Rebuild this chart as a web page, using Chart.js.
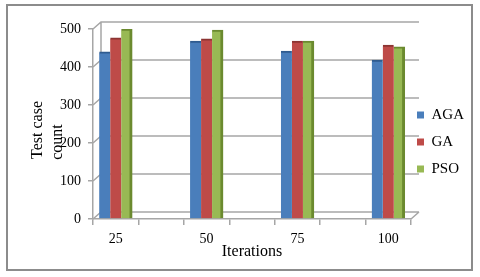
<!DOCTYPE html>
<html>
<head>
<meta charset="utf-8">
<script src="https://cdn.jsdelivr.net/npm/chart.js@4/dist/chart.umd.min.js"></script>
<style>
    html, body { margin: 0; padding: 0; background: #ffffff; }
    .frame {
        position: absolute; left: 6px; top: 4px;
        width: 463px; height: 263px;
        border: 2px solid #8c8c8c;
    }
    #chart { position: absolute; left: 0; top: 0; }
</style>
</head>
<body>
<div class="frame"></div>
<canvas id="chart" width="480" height="277"></canvas>
<script>
// values
const categories = [25, 50, 75, 100];
const xTickLabels = ["25", "50", "75", "100"];
const seriesNames = ["AGA", "GA", "PSO"];
const agaValues = [440, 468, 442, 418];
const gaValues = [477, 474, 468, 458];
const psoValues = [500, 497, 468, 453];

const serif = "'Liberation Serif', 'Times New Roman', serif";
const gridColor = "#a6a6a6";

// excel-style 3d back wall + gridlines
const wall3d = {
    id: "wall3d",
    beforeDatasetsDraw(chart) {
        const { ctx, chartArea: a, scales: { y } } = chart;
        const dx = 8, dy = -7;
        ctx.save();
        ctx.strokeStyle = gridColor;
        ctx.lineWidth = 1.5;
        ctx.beginPath();
        ctx.moveTo(a.left + dx, a.top + dy);
        ctx.lineTo(a.left + dx, a.bottom + dy);
        y.ticks.forEach((t) => {
            const py = y.getPixelForValue(t.value);
            ctx.moveTo(a.left, py);
            ctx.lineTo(a.left + dx, py + dy);
            ctx.lineTo(a.right + dx, py + dy);
        });
        ctx.moveTo(a.right, a.bottom);
        ctx.lineTo(a.right + dx, a.bottom + dy);
        ctx.stroke();
        ctx.restore();
    },
};

const toPoints = (vals) => categories.map((c, i) => ({ x: c, y: vals[i] }));

const ctx = document.getElementById("chart").getContext("2d");

const chart = new Chart(ctx, {
    type: "bar",
    data: {
        datasets: [
            {
                label: seriesNames[0],
                data: toPoints(agaValues),
                backgroundColor: "#4a7ebb",
                borderColor: "#2f5b8f",
                borderWidth: { top: 2, right: 0, left: 0, bottom: 0 },
            },
            {
                label: seriesNames[1],
                data: toPoints(gaValues),
                backgroundColor: "#be4b48",
                borderColor: "#8c3432",
                borderWidth: { top: 2, right: 0, left: 0, bottom: 0 },
            },
            {
                label: seriesNames[2],
                data: toPoints(psoValues),
                backgroundColor: "#98b954",
                borderColor: "#6b8a2f",
                borderWidth: { top: 2, right: 3, left: 0, bottom: 0 },
            },
        ],
    },
    options: {
        responsive: false,
        animation: false,
        layout: { padding: { left: 28, top: 29, right: 6, bottom: 16 } },
        datasets: { bar: { barThickness: 11 } },
        scales: {
            x: {
                type: "linear",
                offset: false,
                min: 18.75,
                max: 106.25,
                afterBuildTicks: (scale) => {
                    const ticks = [];
                    for (let v = 18.75; v <= 106.25; v += 12.5) ticks.push({ value: v });
                    scale.ticks = ticks;
                },
                afterFit: (scale) => {
                    scale.height = 42;
                },
                grid: {
                    offset: false,
                    drawOnChartArea: false,
                    tickLength: 6,
                    color: gridColor,
                    lineWidth: 1.5,
                },
                border: { color: gridColor, width: 1.5 },
                ticks: {
                    autoSkip: false,
                    maxRotation: 0,
                    labelOffset: 22.7,
                    padding: 6,
                    color: "#000",
                    font: { family: serif, size: 14 },
                    callback: (value) => {
                        const i = categories.indexOf(value + 6.25);
                        return i >= 0 ? xTickLabels[i] : "";
                    },
                },
                title: {
                    display: true,
                    text: "Iterations",
                    color: "#000",
                    font: { family: serif, size: 16, lineHeight: 1.2 },
                    padding: { top: 0, bottom: 0 },
                },
            },
            y: {
                min: 0,
                max: 500,
                afterFit: (scale) => {
                    scale.width = 65;
                },
                ticks: {
                    stepSize: 100,
                    padding: 7,
                    color: "#000",
                    font: { family: serif, size: 14 },
                },
                grid: {
                    drawOnChartArea: false,
                    tickLength: 5,
                    color: gridColor,
                    lineWidth: 1.5,
                },
                border: { color: gridColor, width: 1.5 },
                title: {
                    display: true,
                    text: ["Test case   ", "count         "],
                    color: "#000",
                    font: { family: serif, size: 16, lineHeight: 1.25 },
                    padding: { top: 0, bottom: 0 },
                },
            },
        },
        plugins: {
            legend: {
                position: "right",
                labels: {
                    boxWidth: 7,
                    boxHeight: 7,
                    padding: 6,
                    color: "#000",
                    font: { family: serif, size: 15, lineHeight: 1.4 },
                    generateLabels: (chart) =>
                        Chart.defaults.plugins.legend.labels
                            .generateLabels(chart)
                            .map((l) => ({ ...l, text: [l.text], lineWidth: 0 })),
                },
            },
            tooltip: { enabled: false },
        },
    },
    plugins: [wall3d],
});
</script>
</body>
</html>
